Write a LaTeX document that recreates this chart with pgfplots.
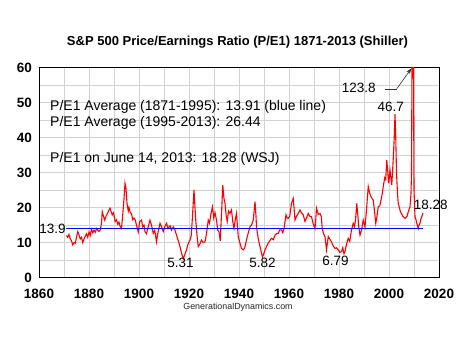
\documentclass[border=0pt]{standalone}
\usepackage{pgfplots}
\pgfplotsset{compat=1.18}
\usepackage{fontspec}
\setmainfont{Liberation Sans}
\usetikzlibrary{arrows.meta}
\begin{document}
\begin{tikzpicture}[x=1pt,y=1pt]
\path[use as bounding box] (0,0) rectangle (475,356);
\node[font=\fontsize{13}{15}\selectfont\bfseries] at (237.5,314) {S\&P 500 Price/Earnings Ratio (P/E1) 1871-2013 (Shiller)};
\node[font=\fontsize{8.9}{10}\selectfont, text=black!85] at (238,48.3) {GenerationalDynamics.com};
\begin{axis}[
  at={(39pt,78.5pt)}, anchor=south west,
  scale only axis, width=400pt, height=210pt,
  xmin=1860, xmax=2020, ymin=0, ymax=60,
  xtick={1860,1880,...,2020}, minor xtick={1870,1890,...,2010},
  ytick={0,10,...,60}, minor ytick={5,15,...,55},
  grid=both,
  major grid style={gray!35, line width=0.6pt},
  minor grid style={gray!35, line width=0.6pt},
  tick style={draw=none},
  axis line style={black, line width=0.8pt},
  clip mode=individual,
  /pgf/number format/assume math mode=true,
  /pgf/number format/set thousands separator={},
  ticklabel style={font=\fontsize{13.5}{15}\selectfont\bfseries, inner sep=0pt},
  xticklabel style={anchor=center, yshift=-16.5pt},
  yticklabel style={anchor=east, xshift=-7pt},
]
\addplot[red, line width=1.1pt] coordinates {
(1871.0,12.0) (1871.5,11.5) (1872.0,12.3) (1872.5,11.0) (1873.0,10.5) (1873.5,9.3) (1874.0,10.0) (1874.5,9.8)
(1875.0,11.5) (1875.5,13.1) (1876.0,12.2) (1876.5,11.0) (1877.0,11.5) (1877.5,10.0) (1878.0,11.0) (1878.5,11.8)
(1879.0,12.5) (1879.5,11.5) (1880.0,13.0) (1880.5,12.0) (1881.0,13.8) (1881.5,12.8) (1882.0,13.5) (1882.5,12.9)
(1883.0,14.0) (1883.5,13.5) (1884.0,13.2) (1884.5,13.6) (1885.0,15.5) (1885.3,18.8) (1885.8,17.5) (1886.3,16.4)
(1886.8,17.5) (1887.5,18.5) (1888.4,19.8) (1888.8,19.0) (1889.3,17.9) (1889.8,18.5) (1890.5,16.0) (1891.0,16.5)
(1891.5,15.2) (1892.0,15.8) (1892.5,14.5) (1893.0,14.0) (1893.5,18.0) (1894.0,22.5) (1894.4,26.9) (1894.8,25.5)
(1895.2,21.2) (1895.7,19.0) (1896.0,20.0) (1896.5,18.5) (1897.0,18.3) (1897.5,16.5) (1898.0,17.0) (1898.5,16.4)
(1899.0,15.0) (1899.7,13.0) (1900.3,16.0) (1901.0,16.4) (1901.5,14.5) (1902.0,15.0) (1902.4,13.1) (1903.0,12.5)
(1903.5,14.0) (1904.4,16.4) (1905.0,15.0) (1905.7,12.6) (1906.3,13.5) (1907.0,10.2) (1907.5,12.5) (1908.4,15.5)
(1909.0,14.5) (1909.7,13.1) (1910.3,14.5) (1911.0,15.5) (1911.6,14.0) (1912.4,14.8) (1913.0,13.5) (1913.7,14.5)
(1914.3,13.8) (1915.0,12.1) (1915.7,10.5) (1916.4,8.8) (1917.0,7.0) (1917.7,5.31) (1918.3,6.5) (1919.0,7.9)
(1919.6,9.5) (1920.4,10.7) (1920.9,12.0) (1921.3,16.4) (1922.0,25.0) (1922.4,20.0) (1922.7,16.4) (1923.2,12.0)
(1923.7,8.8) (1924.3,9.5) (1925.0,10.7) (1925.7,10.0) (1926.4,10.2) (1927.0,12.5) (1927.7,16.4) (1928.2,15.5)
(1928.8,18.3) (1929.4,20.2) (1929.9,17.0) (1930.4,18.5) (1931.0,16.4) (1931.5,13.5) (1932.0,13.0) (1932.5,10.5)
(1933.0,18.0) (1933.5,26.4) (1934.0,22.5) (1934.4,21.2) (1934.9,17.5) (1935.3,16.0) (1935.8,19.0) (1936.4,18.3)
(1937.0,19.3) (1937.5,16.0) (1938.0,14.0) (1938.5,16.5) (1939.0,18.3) (1939.4,14.5) (1939.7,11.7) (1940.3,10.0)
(1941.0,8.3) (1941.7,7.9) (1942.3,8.5) (1943.0,10.7) (1943.6,12.5) (1944.4,14.5) (1945.0,15.0) (1945.7,16.4)
(1946.4,21.7) (1946.8,17.5) (1947.0,14.5) (1947.6,11.5) (1948.4,8.8) (1949.0,7.0) (1949.4,5.82) (1950.0,7.0)
(1950.4,7.9) (1951.0,8.8) (1951.7,9.8) (1952.3,10.5) (1953.0,11.2) (1953.7,10.8) (1954.4,12.1) (1955.0,12.5)
(1955.7,12.6) (1956.3,13.6) (1957.0,13.6) (1957.5,12.8) (1958.0,14.0) (1958.8,17.9) (1959.2,17.0) (1959.7,16.9)
(1960.3,17.5) (1961.0,21.2) (1961.7,22.6) (1962.0,20.0) (1962.4,16.4) (1963.0,17.5) (1963.7,18.3) (1964.4,19.3)
(1965.0,18.5) (1965.7,17.9) (1966.4,16.0) (1967.0,17.0) (1967.7,18.3) (1968.3,17.5) (1969.0,17.4) (1969.6,15.5)
(1970.4,14.0) (1970.7,16.5) (1971.0,19.8) (1971.7,18.0) (1972.4,18.3) (1972.9,17.5) (1973.3,14.0) (1973.8,12.5)
(1974.4,11.7) (1975.0,7.9) (1975.7,11.7) (1976.3,11.0) (1977.0,10.2) (1977.7,9.0) (1978.4,8.3) (1979.0,8.5)
(1979.7,7.9) (1980.3,7.2) (1981.0,7.4) (1981.5,8.5) (1982.0,6.79) (1982.4,7.4) (1983.0,9.5) (1983.7,11.2)
(1984.3,10.3) (1985.0,13.6) (1985.7,15.5) (1986.2,14.5) (1986.6,16.4) (1987.1,21.2) (1987.5,18.0) (1987.9,14.5)
(1988.4,12.1) (1989.0,13.5) (1989.7,16.4) (1990.4,14.5) (1991.0,19.3) (1991.7,26.0) (1992.3,24.0) (1992.8,23.1)
(1993.3,22.5) (1993.7,22.1) (1994.2,19.0) (1994.7,15.5) (1995.2,17.5) (1995.7,20.2) (1996.3,20.5) (1996.8,22.1)
(1997.3,24.0) (1997.7,26.0) (1998.3,28.5) (1998.7,28.0) (1999.1,33.6) (1999.9,26.9) (2000.4,30.7) (2001.1,26.4)
(2001.4,30.0) (2001.7,34.0) (2002.1,40.0) (2002.4,46.7) (2002.7,40.0) (2003.0,30.0) (2003.4,24.0) (2003.7,21.2)
(2004.5,19.0) (2005.5,17.5) (2006.4,16.9) (2007.2,17.5) (2007.8,19.0) (2008.4,20.2) (2008.8,24.0) (2009.0,30.0)
(2009.2,60.0) (2009.4,123.8) (2009.6,100.0) (2009.8,60.0) (2010.0,25.0) (2010.4,17.4) (2010.8,16.5) (2011.1,15.5)
(2011.7,14.0) (2012.0,15.0) (2012.4,15.5) (2012.8,16.8) (2013.2,17.6) (2013.6,18.4)
};
\addplot[blue, line width=1.3pt] coordinates {(1871,13.91) (2013.6,13.91)};
\begin{scope}[font=\fontsize{14}{16}\selectfont]
\node[anchor=west, inner sep=0pt] at (axis cs:1864.4,48.8) {P/E1 Average (1871-1995): 13.91 (blue line)};
\node[anchor=west, inner sep=0pt] at (axis cs:1864.4,44.1) {P/E1 Average (1995-2013): 26.44};
\node[anchor=west, inner sep=0pt] at (axis cs:1864.4,33.9) {P/E1 on June 14, 2013: 18.28 (WSJ)};
\end{scope}
\begin{scope}[font=\fontsize{13.5}{15}\selectfont]
\node[anchor=west, inner sep=0pt] at (axis cs:1860.1,13.9) {13.9};
\node[inner sep=0pt] at (axis cs:1916.6,4.05) {5.31};
\node[inner sep=0pt] at (axis cs:1949.4,4.2) {5.82};
\node[inner sep=0pt] at (axis cs:1978.6,4.8) {6.79};
\node[inner sep=0pt] at (axis cs:1987.9,54.1) {123.8};
\node[inner sep=0pt] at (axis cs:2000.7,48.8) {46.7};
\node[inner sep=0pt] at (axis cs:2016.7,20.7) {18.28};
\end{scope}
\draw[black!80, line width=0.6pt] (axis cs:1998.2,53.9) -- (axis cs:2003.1,53.9);
\draw[black!80, line width=0.6pt, -{Stealth[length=6pt,width=4pt]}] (axis cs:2003.1,53.9) -- (axis cs:2009.0,59.8);
\end{axis}
\end{tikzpicture}
\end{document}
